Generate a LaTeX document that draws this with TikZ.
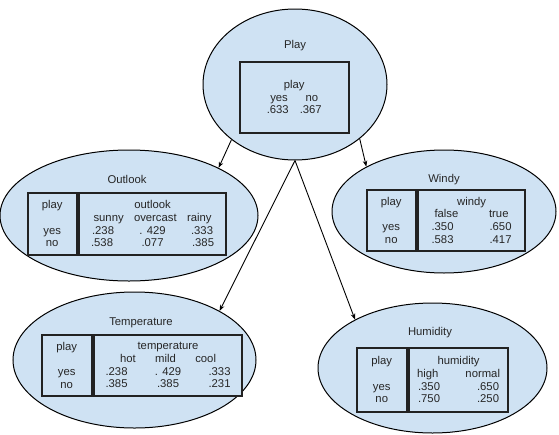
\documentclass[tikz,border=0pt]{standalone}
\usepackage{fontspec}
\setmainfont{Liberation Sans}
\usetikzlibrary{shapes.geometric, arrows.meta, positioning}
\definecolor{nodeBlue}{RGB}{207, 226, 243}
\definecolor{lineGray}{RGB}{34, 34, 34}
\newcommand{\spread}[2]{\makebox[#1pt]{#2}}

\begin{document}
\begin{tikzpicture}[
    x=1pt, y=-1pt,
    font=\fontsize{11.3}{12.7}\selectfont,
    blob/.style={ellipse, draw=black, fill=nodeBlue, line width=1pt, inner sep=0pt},
    title/.style={anchor=base, text=black!85},
    cell/.style={
        rectangle, draw=lineGray, fill=nodeBlue, line width=1.5pt, inner sep=0pt,
        align=center, text=black!85, minimum height=#1
    },
    arrow/.style={-{Stealth[length=6pt, width=4.5pt]}, line width=0.9pt, draw=black}
]
\useasboundingbox (0,0) rectangle (559,434);

\node[blob, minimum width=184pt, minimum height=151pt] (play) at (295,84.5) {};
\node[blob, minimum width=258pt, minimum height=131pt] (outlook) at (129,215.5) {};
\node[blob, minimum width=224pt, minimum height=123pt] (windy) at (444,211.5) {};
\node[blob, minimum width=243pt, minimum height=136pt] (temp) at (134.5,360) {};
\node[blob, minimum width=229pt, minimum height=130pt] (humid) at (432.5,368) {};

\node[title] (playTitle) at (295,48) {Play};
\node[title] (outlookTitle) at (127,183) {Outlook};
\node[title] (windyTitle) at (444,182) {Windy};
\node[title] (tempTitle) at (141,325) {Temperature};
\node[title] (humidTitle) at (430,335) {Humidity};

\node[cell=71pt, minimum width=109pt, anchor=north west] (playTab) at (239,61)
    {play\\\spread{48}{yes\hfill no}\\\spread{55}{.633\hfill .367}};

\node[cell=62pt, minimum width=49pt, anchor=north west] (outlookPlay) at (27,192)
    {play\\[12.7pt]yes\\no};
\node[cell=62pt, minimum width=147pt, right=0.8pt of outlookPlay] (outlookVal)
    {outlook\\\spread{118}{sunny\hfill overcast\hfill rainy}\\
     \spread{121}{.238\hfill . 429\hfill .333}\\\spread{123}{.538\hfill .077\hfill .385}};

\node[cell=61pt, minimum width=49pt, anchor=north west] (windyPlay) at (366,189)
    {play\\[12.7pt]yes\\no};
\node[cell=61pt, minimum width=107pt, right=0.8pt of windyPlay] (windyVal)
    {windy\\\spread{74}{false\hfill true}\\
     \spread{80}{.350\hfill .650}\\\spread{80}{.583\hfill .417}};

\node[cell=61pt, minimum width=50pt, anchor=north west] (tempPlay) at (41,334)
    {play\\[12.7pt]yes\\no};
\node[cell=61pt, minimum width=148pt, right=0.8pt of tempPlay] (tempVal)
    {temperature\\\spread{96}{hot\hfill mild\hfill cool}\\
     \spread{125}{.238\hfill . 429\hfill .333}\\\spread{125}{.385\hfill .385\hfill .231}};

\node[cell=64pt, minimum width=50pt, anchor=north west] (humidPlay) at (356,347)
    {play\\[12.7pt]yes\\no};
\node[cell=64pt, minimum width=99pt, right=0.8pt of humidPlay] (humidVal)
    {humidity\\\spread{83}{high\hfill normal}\\
     \spread{81}{.350\hfill .650}\\\spread{81}{.750\hfill .250}};

\draw[arrow] (play.221) -- (outlook.28);
\draw[arrow] (play.320) -- (windy.150);
\draw[arrow] (play.south) -- (temp.30);
\draw[arrow] (play.south) -- (humid.148);
\end{tikzpicture}
\end{document}
